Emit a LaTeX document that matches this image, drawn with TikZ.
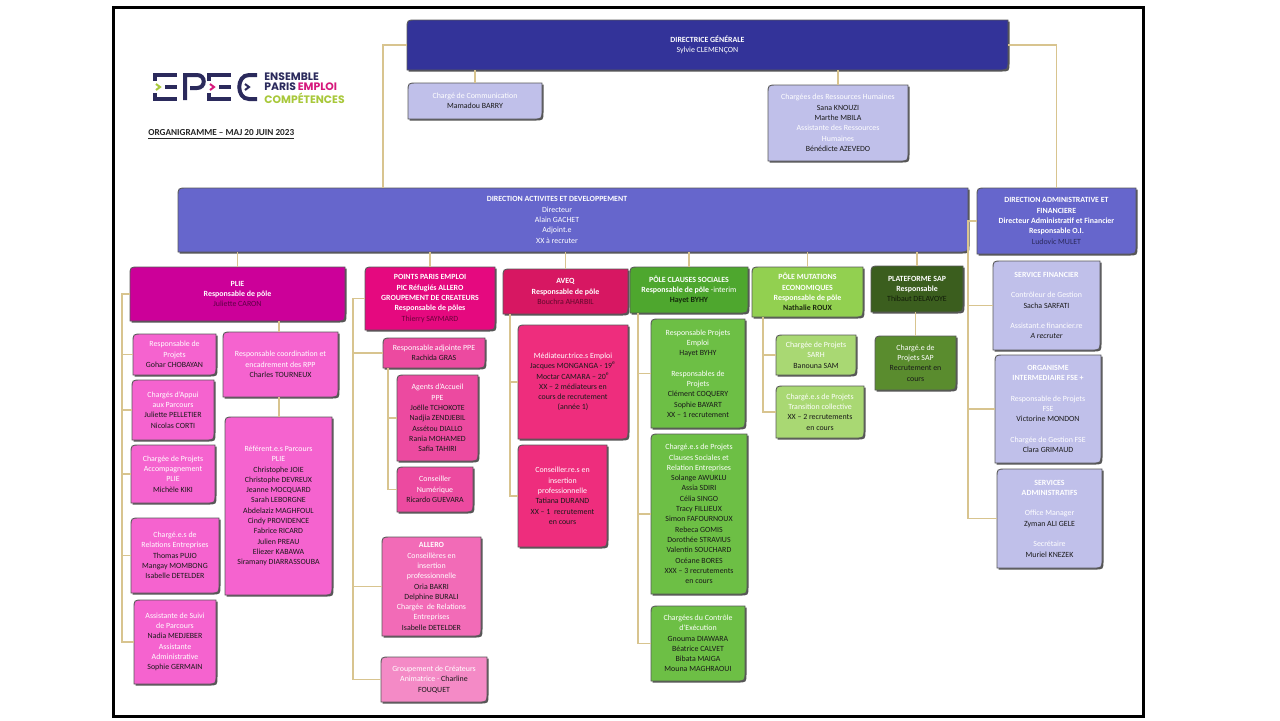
\documentclass[tikz,border=0pt]{standalone}
\usepackage{fontspec}
\setmainfont{Carlito}
\newfontfamily\logofont{Poppins}
\definecolor{cdg}{HTML}{333399}
\definecolor{cdad}{HTML}{6666CC}
\definecolor{clav}{HTML}{C0C0EA}
\definecolor{cplie}{HTML}{CC0099}
\definecolor{cpliec}{HTML}{F563CF}
\definecolor{cppe}{HTML}{E5097F}
\definecolor{cppec}{HTML}{EC4AA0}
\definecolor{callero}{HTML}{F26BB7}
\definecolor{cgrp}{HTML}{F48AC6}
\definecolor{caveq}{HTML}{D71762}
\definecolor{caveqc}{HTML}{EE2D7D}
\definecolor{ccs}{HTML}{4EA72E}
\definecolor{ccsc}{HTML}{6DBF45}
\definecolor{cme}{HTML}{92D050}
\definecolor{cmec}{HTML}{A9D873}
\definecolor{csap}{HTML}{3B5E1E}
\definecolor{csapc}{HTML}{5A8C2E}
\definecolor{connc}{HTML}{D8C48F}
\definecolor{namec}{HTML}{1A1A1A}
\definecolor{navy}{HTML}{2B2A5C}
\definecolor{logomag}{HTML}{D6197C}
\definecolor{logolime}{HTML}{A8C83A}
\definecolor{shadowc}{HTML}{555555}
\newcommand\nm[1]{{\color{namec}#1}}
\newcommand\obox[8][]{%
  \fill[shadowc] (#3+1.5,#6+1.5) -- (#3+1.5,#4+10.5) .. controls (#3+1.5,#4+1.5) .. (#3+10.5,#4+1.5) -- (#5+1.5,#4+1.5) -- (#5+1.5,#6-7.5) .. controls (#5+1.5,#6+1.5) .. (#5-7.5,#6+1.5) -- cycle;
  \filldraw[fill=#7,draw=black!65,line width=0.45pt] (#3,#6) -- (#3,#4+9) .. controls (#3,#4) .. (#3+9,#4) -- (#5,#4) -- (#5,#6-9) .. controls (#5,#6) .. (#5-9,#6) -- cycle;
  \node[boxtext,minimum width={(#5-#3)*0.5pt},minimum height={(#6-#4)*0.5pt},#1] (#2) at ({(#3+#5)/2},{(#4+#6)/2}) {#8};
}
\tikzset{
  boxtext/.style={inner sep=0pt,align=center,text=white,font=\fontsize{3.95}{5.15}\selectfont},
  conn/.style={draw=connc,line width=0.8pt},
  logo/.style={draw=navy,line width=2pt},
  chev/.style={line width=1pt}
}
\begin{document}
\begin{tikzpicture}[x=0.5pt,y=-0.5pt]
\fill[white] (0,0) rectangle (1280,720);
\useasboundingbox (0,0) rectangle (1280,720);
\draw[line width=1.5pt] (113,7) rectangle (1143,716);

% logo
\draw[logo] (177,75) -- (155,75) -- (155,81);
\draw[logo] (155,93) -- (155,99) -- (177,99);
\draw[logo] (165,87) -- (177,87);
\draw[chev,draw=logolime] (156,84) -- (160,87) -- (156,90);
\draw[logo] (185,100) -- (185,75) -- (197,75) .. controls (206,75) and (206,88) .. (197,88) -- (190,88);
\draw[logo] (231,75) -- (209,75) -- (209,81);
\draw[logo] (209,93) -- (209,99) -- (231,99);
\draw[logo] (219,87) -- (231,87);
\draw[chev,draw=logomag] (210,84) -- (214,87) -- (210,90);
\draw[logo] (257,75) -- (249,75) .. controls (236,75) and (236,99) .. (249,99) -- (257,99);
\draw[chev,draw=navy] (245,84) -- (249,87) -- (245,90);
\node[anchor=north west,inner sep=0pt,align=left,font=\logofont\bfseries\fontsize{5.4}{5.2}\selectfont] (logotext) at (264,72)
  {\textcolor{navy}{ENSEMBLE}\\\textcolor{navy}{PARIS}\,\textcolor{logomag}{EMPLOI}\\\textcolor{logolime}{COMPÉTENCES}};
\node[anchor=west,inner sep=0pt,text=black!85,font=\bfseries\fontsize{4.6}{5.5}\selectfont] (titre) at (148,135)
  {\underline{ORGANIGRAMME – MAJ 20 JUIN 2023}};

% top level
\obox{dg}{407}{20}{1008}{70}{cdg}{\textbf{DIRECTRICE GÉNÉRALE}\\Sylvie CLEMENÇON}
\obox{cc}{408}{83}{542}{119}{clav}{Chargé de Communication\\\nm{Mamadou BARRY}}
\obox{rh}{768}{85}{908}{161}{clav}{Chargées des Ressources Humaines\\\nm{Sana KNOUZI}\\\nm{Marthe MBILA}\\Assistante des Ressources\\Humaines\\\nm{Bénédicte AZEVEDO}}
\obox[xshift=-8pt]{dad}{178}{188}{968}{252}{cdad}{\textbf{DIRECTION ACTIVITES ET DEVELOPPEMENT}\\Directeur\\Alain GACHET\\Adjoint.e\\XX à recruter}
\obox{daf}{977}{188}{1136}{254}{cdad}{\textbf{DIRECTION ADMINISTRATIVE ET}\\\textbf{FINANCIERE}\\\textbf{Directeur Administratif et Financier}\\\textbf{Responsable O.I.}\\\textcolor{navy}{Ludovic MULET}}

% DAF children
\obox{sf}{993}{261}{1100}{350}{clav}{\textbf{SERVICE FINANCIER}\\~\\Contrôleur de Gestion\\\nm{Sacha SARFATI}\\~\\Assistant.e financier.re\\\nm{\itshape A recruter}}
\obox{oi}{995}{355}{1101}{463}{clav}{\textbf{ORGANISME}\\\textbf{INTERMEDIAIRE FSE +}\\~\\Responsable de Projets\\FSE\\\nm{Victorine MONDON}\\~\\Chargée de Gestion FSE\\\nm{Clara GRIMAUD}}
\obox{sa}{997}{469}{1102}{568}{clav}{\textbf{SERVICES}\\\textbf{ADMINISTRATIFS}\\~\\Office Manager\\\nm{Zyman ALI GELE}\\~\\Secrétaire\\\nm{Muriel KNEZEK}}

% poles
\obox{plie}{130}{267}{345}{321}{cplie}{\textbf{PLIE}\\\textbf{Responsable de pôle}\\\textcolor{black!55!cplie}{Juliette CARON}}
\obox{ppe}{365}{267}{495}{330}{cppe}{\textbf{POINTS PARIS EMPLOI}\\\textbf{PIC Réfugiés ALLERO}\\\textbf{GROUPEMENT DE CREATEURS}\\\textbf{Responsable de pôles}\\\textcolor{black!55!cppe}{Thierry SAYMARD}}
\obox{aveq}{503}{269}{628}{314}{caveq}{\textbf{AVEQ}\\\textbf{Responsable de pôle}\\\textcolor{black!55!caveq}{Bouchra AHARBIL}}
\obox{cs}{630}{267}{748}{313}{ccs}{\textbf{PÔLE CLAUSES SOCIALES}\\\textbf{Responsable de pôle} -interim\\\textcolor{black!75!ccs}{\textbf{Hayet BYHY}}}
\obox{me}{752}{267}{863}{317}{cme}{\textbf{PÔLE MUTATIONS}\\\textbf{ECONOMIQUES}\\\textbf{Responsable de pôle}\\\textcolor{black!80!cme}{\textbf{Nathalie ROUX}}}
\obox{sap}{871}{266}{963}{312}{csap}{\textbf{PLATEFORME SAP}\\\textbf{Responsable}\\\textcolor{black!70!csap}{Thibaut DELAVOYE}}

% PLIE children
\obox{rp}{133}{334}{216}{375}{cpliec}{Responsable de\\Projets\\\nm{Gohar CHOBAYAN}}
\obox{cap}{132}{380}{214}{440}{cpliec}{Chargés d'Appui\\aux Parcours\\\nm{Juliette PELLETIER}\\\nm{Nicolas CORTI}}
\obox{cpa}{131}{445}{215}{503}{cpliec}{Chargée de Projets\\Accompagnement\\PLIE\\\nm{Michèle KIKI}}
\obox{cre}{131}{518}{219}{593}{cpliec}{Chargé.e.s de\\Relations Entreprises\\\nm{Thomas PUJO}\\\nm{Mangay MOMBONG}\\\nm{Isabelle DETELDER}}
\obox{asp}{134}{600}{216}{684}{cpliec}{Assistante de Suivi\\de Parcours\\\nm{Nadia MEDJEBER}\\Assistante\\Administrative\\\nm{Sophie GERMAIN}}
\obox{rco}{223}{332}{338}{397}{cpliec}{Responsable coordination et\\encadrement des RPP\\\nm{Charles TOURNEUX}}
\obox{ref}{225}{417}{332}{595}{cpliec}{Référent.e.s Parcours\\PLIE\\\nm{Christophe JOIE}\\\nm{Christophe DEVREUX}\\\nm{Jeanne MOCQUARD}\\\nm{Sarah LEBORGNE}\\\nm{Abdelaziz MAGHFOUL}\\\nm{Cindy PROVIDENCE}\\\nm{Fabrice RICARD}\\\nm{Julien PREAU}\\\nm{Eliezer KABAWA}\\\nm{Siramany DIARRASSOUBA}}

% PPE children
\obox{radj}{383}{338}{485}{368}{cppec}{Responsable adjointe PPE\\\nm{Rachida GRAS}}
\obox{agents}{397}{375}{478}{461}{cppec}{Agents d'Accueil\\PPE\\\nm{Joëlle TCHOKOTE}\\\nm{Nadjia ZENDJEBIL}\\\nm{Assétou DIALLO}\\\nm{Rania MOHAMED}\\\nm{Safia TAHIRI}}
\obox{cnum}{397}{467}{473}{512}{cppec}{Conseiller\\Numérique\\\nm{Ricardo GUEVARA}}
\obox{allero}{382}{537}{481}{636}{callero}{\textbf{ALLERO}\\Conseillères en\\insertion\\professionnelle\\\nm{Oria BAKRI}\\\nm{Delphine BURALI}\\Chargée\ \ de Relations\\Entreprises\\\nm{Isabelle DETELDER}}
\obox{grp}{381}{657}{487}{702}{cgrp}{Groupement de Créateurs\\Animatrice - \nm{Charline}\\\nm{FOUQUET}}

% AVEQ children
\obox{med}{518}{325}{628}{439}{caveqc}{Médiateur.trice.s Emploi\\\nm{Jacques MONGANGA - 19\textsuperscript{e}}\\\nm{Moctar CAMARA – 20\textsuperscript{e}}\\\nm{XX – 2 médiateurs en}\\\nm{cours de recrutement}\\\nm{(année 1)}}
\obox{cons}{518}{445}{607}{547}{caveqc}{Conseiller.re.s en\\insertion\\professionnelle\\\nm{Tatiana DURAND}\\\nm{XX – 1\ \ recrutement}\\\nm{en cours}}

% Clauses children
\obox{rpe}{651}{319}{745}{428}{ccsc}{Responsable Projets\\Emploi\\\nm{Hayet BYHY}\\~\\Responsables de\\Projets\\\nm{Clément COQUERY}\\\nm{Sophie BAYART}\\\nm{XX – 1 recrutement}}
\obox{cpc}{651}{434}{747}{594}{ccsc}{Chargé.e.s de Projets\\Clauses Sociales et\\Relation Entreprises\\\nm{Solange AWUKLU}\\\nm{Assia SDIRI}\\\nm{Célia SINGO}\\\nm{Tracy FILLIEUX}\\\nm{Simon FAFOURNOUX}\\\nm{Rebeca GOMIS}\\\nm{Dorothée STRAVIUS}\\\nm{Valentin SOUCHARD}\\\nm{Océane BORES}\\\nm{XXX – 3 recrutements}\\\nm{en cours}}
\obox{cce}{651}{606}{745}{681}{ccsc}{Chargées du Contrôle\\d'Exécution\\\nm{Gnouma DIAWARA}\\\nm{Béatrice CALVET}\\\nm{Bibata MAIGA}\\\nm{Mouna MAGHRAOUI}}

% Mutations children
\obox{sarh}{776}{335}{856}{375}{cmec}{Chargée de Projets\\SARH\\\nm{Banouna SAM}}
\obox{tc}{776}{386}{864}{438}{cmec}{Chargé.e.s de Projets\\Transition collective\\\nm{XX – 2 recrutements}\\\nm{en cours}}

% SAP child
\obox{csap}{875}{336}{956}{390}{csapc}{Chargé.e de\\Projets SAP\\\nm{Recrutement en}\\\nm{cours}}

% connectors
\coordinate (tl) at (383,188);
\draw[conn] (dg.west) -| (tl);
\draw[conn] (dg.east) -| (daf.north);
\draw[conn] (cc.north) -- (cc.north |- dg.south);
\draw[conn] (rh.north) -- (rh.north |- dg.south);
\foreach \p in {plie,ppe,aveq,cs,me,sap}{\draw[conn] (\p.north) -- (\p.north |- dad.south);}
% PLIE
\coordinate (pt) at (122,0);
\draw[conn] (plie.west) -| (pt |- asp.west) -- (asp.west);
\foreach \c in {rp,cap,cpa,cre}{\draw[conn] (pt |- \c.west) -- (\c.west);}
\coordinate (pc) at (279,0);
\draw[conn] (pc |- plie.south) -- (pc |- rco.north);
\draw[conn] (pc |- rco.south) -- (pc |- ref.north);
% PPE
\coordinate (qt) at (353,0);
\draw[conn] (ppe.west) -| (qt |- grp.west) -- (grp.west);
\foreach \c in {radj,allero}{\draw[conn] (qt |- \c.west) -- (\c.west);}
\coordinate (qs) at (388,0);
\draw[conn] (qs |- radj.south) -- (qs |- cnum.west) -- (cnum.west);
\draw[conn] (qs |- agents.west) -- (agents.west);
% AVEQ
\coordinate (at) at (510,0);
\draw[conn] (at |- aveq.south) -- (at |- cons.west) -- (cons.west);
\draw[conn] (at |- med.west) -- (med.west);
% Clauses
\coordinate (ct) at (638,0);
\draw[conn] (ct |- cs.south) -- (ct |- cce.west) -- (cce.west);
\foreach \c in {rpe,cpc}{\draw[conn] (ct |- \c.west) -- (\c.west);}
% Mutations
\coordinate (mt) at (763,0);
\draw[conn] (mt |- me.south) -- (mt |- tc.west) -- (tc.west);
\draw[conn] (mt |- sarh.west) -- (sarh.west);
% SAP
\draw[conn] (csap.north) -- (csap.north |- sap.south);
% DAF
\coordinate (ft) at (968,0);
\draw[conn] (daf.west) -| (ft |- sa.west) -- (sa.west);
\foreach \c in {sf,oi}{\draw[conn] (ft |- \c.west) -- (\c.west);}
\end{tikzpicture}
\end{document}
